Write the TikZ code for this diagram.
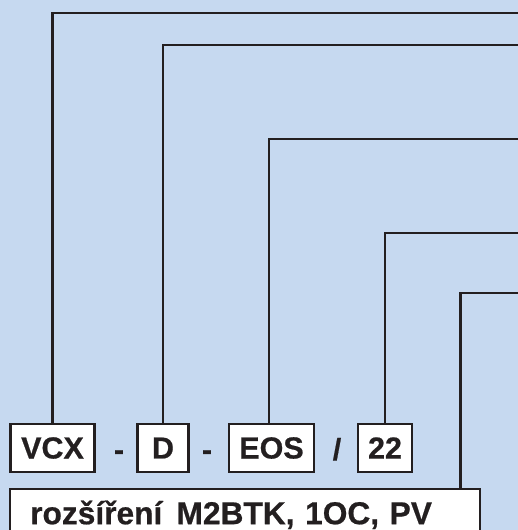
\documentclass[tikz,border=0pt]{standalone}
\usepackage{fontspec}
\setmainfont{Liberation Sans}
\newfontfamily\heavy{Liberation Sans Bold}[FakeBold=0.6]
\definecolor{bgblue}{HTML}{C6D9F0}
\definecolor{ink}{HTML}{231F20}
\begin{document}
\begin{tikzpicture}[x=1pt,y=-1pt,
  codebox/.style={draw=ink, line width=2.4pt, fill=white, inner sep=0pt,
    minimum height=48pt, font=\fontsize{30.5}{34}\heavy, text=ink},
  sep/.style={inner sep=0pt, anchor=base, font=\fontsize{30.5}{34}\heavy, text=ink},
  lead/.style={draw=ink, line width=2.6pt, line join=miter}]
  \clip (0,0) rectangle (518,530);
  \fill[bgblue] (0,0) rectangle (518,530);

  % code parts
  \node[codebox, minimum width=84pt] (vcx) at (52.5,448) {VCX};
  \node[codebox, minimum width=51pt] (d)   at (163,448) {D};
  \node[codebox, minimum width=85pt] (eos) at (271.5,448) {EOS};
  \node[codebox, minimum width=54pt] (n22) at (385,448) {22};
  \node[sep] (s1) at (119,460) {-};
  \node[sep] (s2) at (207,460) {-};
  \node[sep] (s3) at (337,460) {/};

  % extension box, running off the bottom edge
  \node[draw=ink, line width=2.4pt, fill=white, anchor=north west,
    text height=22pt, text depth=40pt, inner ysep=13pt, inner xsep=20pt,
    text width=430pt, align=left, text=ink,
    font=\fontsize{31.7}{34}\heavy] (ext) at (9,488)
    {rozšíření\hspace{0.45em}M2BTK, 1OC, PV};

  % leader ends beyond the right edge
  \coordinate (e1) at (522,13);
  \coordinate (e2) at (522,45);
  \coordinate (e3) at (522,139);
  \coordinate (e4) at (522,233);
  \coordinate (e5) at (522,293);

  \draw[lead] (vcx.north) |- (e1);
  \draw[lead] (d.north) |- (e2);
  \draw[lead] ([xshift=-2.5pt]eos.north) |- (e3);
  \draw[lead] (n22.north) |- (e4);
  \draw[lead] ([xshift=215pt]ext.north) |- (e5);
\end{tikzpicture}
\end{document}
